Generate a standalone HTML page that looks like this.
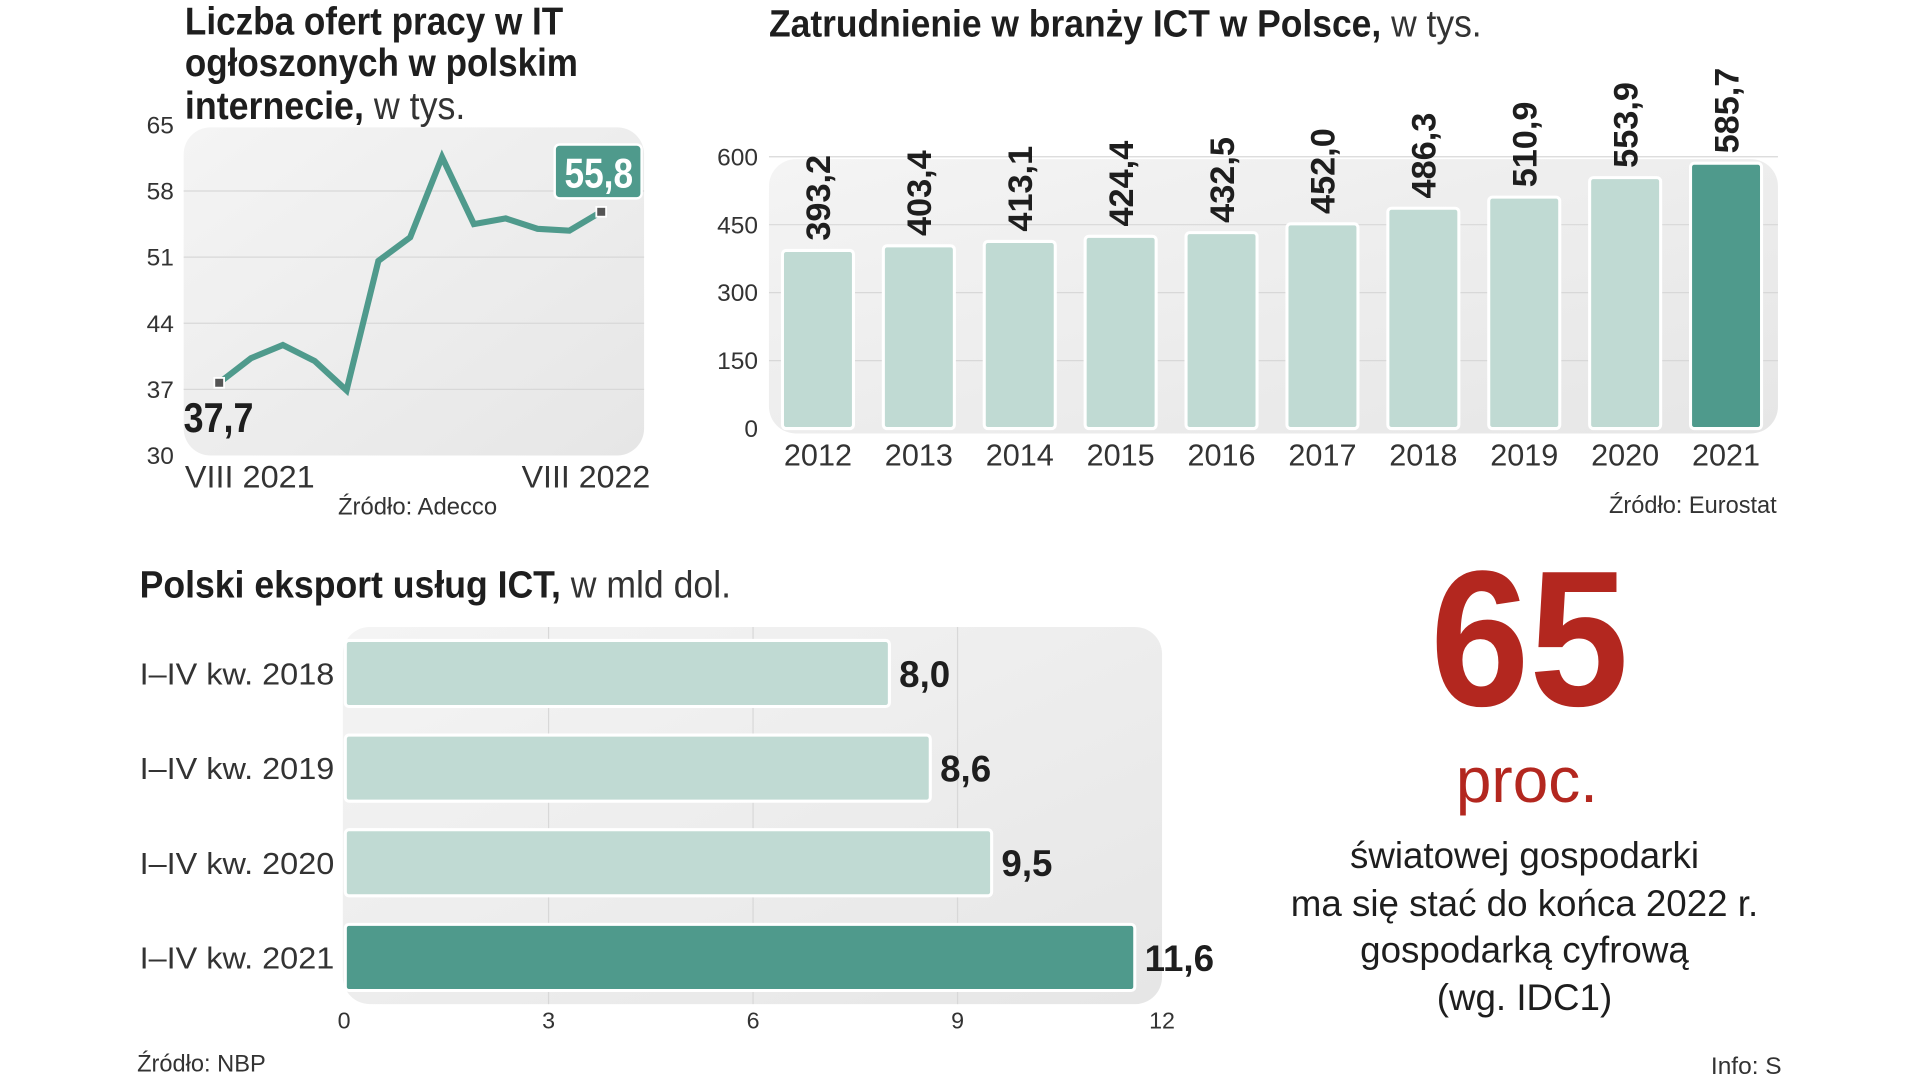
<!DOCTYPE html>
<html><head><meta charset="utf-8">
<style>
html,body{margin:0;padding:0;background:#fff;}
svg{display:block;}
text{font-family:"Liberation Sans Narrow","Liberation Sans","DejaVu Sans Condensed",sans-serif;fill:#1e1e1e;}
.b{font-weight:bold;}
.l{font-weight:normal;fill:#333;}
</style></head>
<body>
<svg id="root" width="1920" height="1080" viewBox="0 0 1568 882" xmlns="http://www.w3.org/2000/svg">
<defs>
<linearGradient id="pg" x1="0" y1="0" x2="1" y2="1"><stop offset="0" stop-color="#f4f4f4"/><stop offset="1" stop-color="#e6e6e6"/></linearGradient>
</defs>

<!-- Line chart -->
<g>
<text x="151" y="28" font-size="32" class="b" textLength="309" lengthAdjust="spacingAndGlyphs">Liczba ofert pracy w IT</text>
<text x="151" y="62" font-size="32" class="b" textLength="321" lengthAdjust="spacingAndGlyphs">ogłoszonych w polskim</text>
<text x="151" y="97" font-size="32" textLength="229" lengthAdjust="spacingAndGlyphs"><tspan class="b">internecie,</tspan><tspan class="l"> w tys.</tspan></text>
<rect x="150" y="104" width="376" height="268" rx="22" fill="url(#pg)"/>
<g id="lineGrid"></g>
<g id="lineMarks"></g>
<text x="151" y="398" font-size="26" class="l" textLength="106" lengthAdjust="spacingAndGlyphs">VIII 2021</text>
<text x="426" y="398" font-size="26" class="l" textLength="105" lengthAdjust="spacingAndGlyphs">VIII 2022</text>
<text x="276" y="420" font-size="20" class="l" textLength="130" lengthAdjust="spacingAndGlyphs">Źródło: Adecco</text>
</g>

<!-- Vertical bar chart -->
<g>
<text x="628" y="30" font-size="31" textLength="582" lengthAdjust="spacingAndGlyphs"><tspan class="b">Zatrudnienie w branży ICT w Polsce,</tspan><tspan class="l"> w tys.</tspan></text>
<rect x="628" y="130" width="824" height="224" rx="22" fill="url(#pg)"/>
<g id="vGrid"></g>
<g id="vBars"></g>
<text x="1314" y="419" font-size="20" class="l" textLength="137" lengthAdjust="spacingAndGlyphs">Źródło: Eurostat</text>
</g>

<!-- Horizontal bar chart -->
<g>
<text x="114" y="488" font-size="31" textLength="483" lengthAdjust="spacingAndGlyphs"><tspan class="b">Polski eksport usług ICT,</tspan><tspan class="l"> w mld dol.</tspan></text>
<rect x="280" y="512" width="669" height="308" rx="22" fill="url(#pg)"/>
<g id="hGrid"></g>
<g id="hBars"></g>
<text x="112" y="875" font-size="20" class="l" textLength="105" lengthAdjust="spacingAndGlyphs">Źródło: NBP</text>
</g>

<!-- Highlight stat -->
<g>
<text x="1168" y="576" font-size="158" class="b" textLength="162" lengthAdjust="spacingAndGlyphs" style="fill:#b3271f">65</text>
<text x="1189" y="655" font-size="52" textLength="116" lengthAdjust="spacingAndGlyphs" style="fill:#b3271f">proc.</text>
<text x="1245" y="709" font-size="30" text-anchor="middle">światowej gospodarki</text>
<text x="1245" y="748" font-size="30" text-anchor="middle">ma się stać do końca 2022 r.</text>
<text x="1245" y="786" font-size="30" text-anchor="middle">gospodarką cyfrową</text>
<text x="1245" y="825" font-size="30" text-anchor="middle">(wg. IDC1)</text>
<text x="1455" y="877" font-size="20" class="l" text-anchor="end">Info: S</text>
</g>
</svg>

<script>
const NS="http://www.w3.org/2000/svg";
// line chart data
const lineTicks=[30,37,44,51,58,65];
const lineValues=[37.7,40.3,41.7,40.0,36.9,50.6,53.1,61.6,54.5,55.1,54.0,53.8,55.8];
// vertical bars
const yearCats=["2012","2013","2014","2015","2016","2017","2018","2019","2020","2021"];
const employValues=[393.2,403.4,413.1,424.4,432.5,452.0,486.3,510.9,553.9,585.7];
const employLabels=["393,2","403,4","413,1","424,4","432,5","452,0","486,3","510,9","553,9","585,7"];
const employTicks=[0,150,300,450,600];
// horizontal bars
const exportCats=["I–IV kw. 2018","I–IV kw. 2019","I–IV kw. 2020","I–IV kw. 2021"];
const exportValues=[8.0,8.6,9.5,11.6];
const exportLabels=["8,0","8,6","9,5","11,6"];
const exportTicks=[0,3,6,9,12];

function mk(tag,attrs,parent,txt){const e=document.createElementNS(NS,tag);for(const k in attrs)e.setAttribute(k,attrs[k]);if(txt!==undefined)e.textContent=txt;parent.appendChild(e);return e;}

// ---- line chart
const ly=v=>372-(v-30)*(270/35);
const lx=i=>179+i*(312/(lineValues.length-1));
const lg=document.getElementById('lineGrid');
lineTicks.forEach(t=>{
  if(t>30&&t<65){const ln=mk('line',{x1:150,x2:526,y1:ly(t),y2:ly(t),stroke:'#d8d8d8','stroke-width':1},lg);
  
  }
  const tx=mk('text',{x:142,y:ly(t)+7,'font-size':20,'text-anchor':'end',class:'l'},lg,String(t));
  
  
});
const lm=document.getElementById('lineMarks');
const pts=lineValues.map((v,i)=>lx(i)+','+ly(v)).join(' ');
const pl=mk('polyline',{points:pts,fill:'none',stroke:'#4f9a8c','stroke-width':5,'stroke-linejoin':'miter'},lm);


[0,lineValues.length-1].forEach(i=>{
  const r=mk('rect',{x:lx(i)-4,y:ly(lineValues[i])-4,width:8,height:8,fill:'#555',stroke:'#fff','stroke-width':1.5},lm);
  
  
});
const t0=mk('text',{x:150,y:ly(lineValues[0])+40,'font-size':34,class:'b',textLength:57,lengthAdjust:'spacingAndGlyphs'},lm,'37,7');


const bx=mk('rect',{x:453,y:118,width:71,height:44,rx:4,fill:'#4f9a8c',stroke:'#fff','stroke-width':2},lm);


const t1=mk('text',{x:461,y:153,'font-size':34,class:'b',textLength:56,lengthAdjust:'spacingAndGlyphs',style:'fill:#fff'},lm,'55,8');



// ---- vertical bars
const vy=v=>350-v*(222/600);
const vx=i=>668+i*82.4;
const vg=document.getElementById('vGrid');
employTicks.forEach(t=>{
  if(t>0){const ln=mk('line',{x1:628,x2:1452,y1:vy(t),y2:vy(t),stroke:'#d8d8d8','stroke-width':1},vg);
  
  }
  const tx=mk('text',{x:619,y:vy(t)+7,'font-size':20,'text-anchor':'end',class:'l'},vg,String(t));
  
  
});
const vb=document.getElementById('vBars');
employValues.forEach((v,i)=>{
  const top=vy(v);
  const r=mk('rect',{x:vx(i)-29,y:top,width:58,height:350-top,rx:3,fill:i===employValues.length-1?'#4f9a8c':'#c0dad3',stroke:'#fff','stroke-width':2.5},vb);
  
  
  const lb=mk('text',{x:0,y:0,'font-size':28,class:'b',transform:`translate(${vx(i)+10},${top-8}) rotate(-90)`},vb,employLabels[i]);
  
  
  const yl=mk('text',{x:vx(i),y:380,'font-size':25,'text-anchor':'middle',class:'l'},vb,yearCats[i]);
  
  
});

// ---- horizontal bars
const hx=v=>281+v*(668/12);
const hy=i=>550+i*77.3;
const hg=document.getElementById('hGrid');
exportTicks.forEach(t=>{
  if(t>0&&t<12){const ln=mk('line',{x1:hx(t),x2:hx(t),y1:512,y2:820,stroke:'#d8d8d8','stroke-width':1},hg);
  
  }
  const tx=mk('text',{x:hx(t),y:840,'font-size':19,'text-anchor':'middle',class:'l'},hg,String(t));
  
  
});
const hb=document.getElementById('hBars');
exportValues.forEach((v,i)=>{
  const r=mk('rect',{x:282,y:hy(i)-27,width:hx(v)-282,height:54,rx:3,fill:i===exportValues.length-1?'#4f9a8c':'#c0dad3',stroke:'#fff','stroke-width':2.5},hb);
  
  
  const c=mk('text',{x:114,y:hy(i)+9,'font-size':25,class:'l',textLength:159,lengthAdjust:'spacingAndGlyphs'},hb,exportCats[i]);
  
  
  const vl=mk('text',{x:hx(v)+8,y:hy(i)+11,'font-size':30,class:'b'},hb,exportLabels[i]);
  
  
});
</script>
</body></html>
